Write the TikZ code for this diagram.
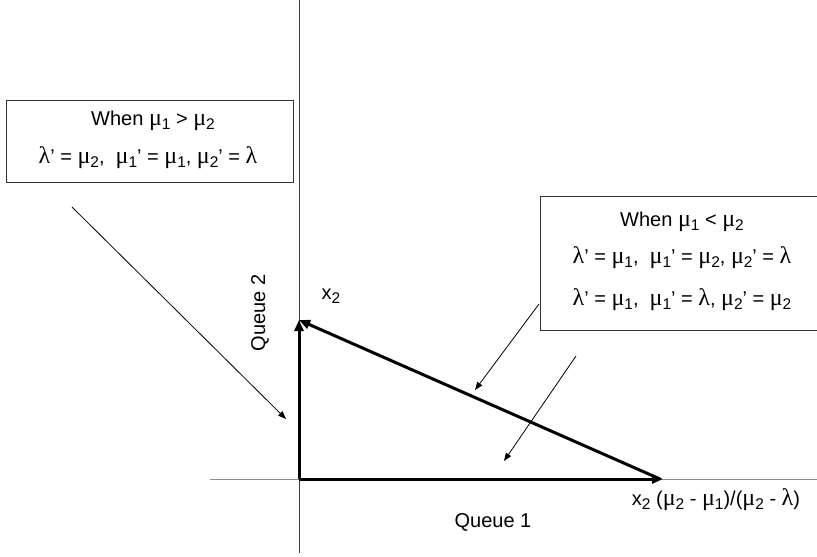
\documentclass[tikz,border=0pt]{standalone}
\usepackage{fontspec}
\setmainfont{Liberation Sans}
\newfontfamily\grk{Liberation Serif}
\usetikzlibrary{arrows.meta}
\newcommand{\gm}{{\grk\fontsize{24}{24}\selectfont μ}}
\newcommand{\gl}{{\grk\fontsize{24}{24}\selectfont λ}}
\newcommand{\sbs}[1]{\raisebox{-0.38ex}{\fontsize{15.5}{16}\selectfont #1}}
\tikzset{
  txt/.style={inner sep=0pt, font=\fontsize{20}{22}\selectfont},
  box/.style={draw=black!80, line width=0.9pt, inner sep=0pt},
  heavyarrow/.style={line width=3pt, -{Triangle[length=11pt,width=9pt]}},
  thinarrow/.style={line width=0.8pt, -{Triangle[length=8pt,width=6pt]}},
  axis/.style={line width=1pt}
}
\begin{document}
\begin{tikzpicture}[x=1pt,y=-1pt]
\useasboundingbox (0,0) rectangle (817,557);
\fill[white] (0,0) rectangle (817,557);
% axes
\coordinate (vtop) at (299,0);
\coordinate (vbot) at (299,553);
\coordinate (hl) at (210,479);
\coordinate (hr) at (817,479);
\draw[axis, draw=black!75] (vtop) -- (vbot);
\draw[axis, draw=black!45] (hl) -- (hr);
% triangle
\coordinate (O) at (299,479);
\coordinate (A) at (299,320);
\coordinate (B) at (663,479);
\coordinate (B2) at (660,479);
\draw[heavyarrow] (O) -- (A);
\draw[heavyarrow] (O) -- (B);
\draw[heavyarrow] (B2) -- (A);
% left box
\node[box, minimum width=287pt, minimum height=82pt] (lbox) at (149.5,141) {};
\node[txt] (l1) at (153,121) {When \gm\sbs{1} > \gm\sbs{2}};
\node[txt] (l2) at (148,158) {\gl’ = \gm\sbs{2},\ \ \gm\sbs{1}’ = \gm\sbs{1}, \gm\sbs{2}’ = \gl};
% right box (runs past the right edge)
\node[box, minimum width=300pt, minimum height=134pt] (rbox) at (690,263) {};
\node[txt] (r1) at (682,222) {When \gm\sbs{1} < \gm\sbs{2}};
\node[txt] (r2) at (682,258) {\gl’ = \gm\sbs{1},\ \ \gm\sbs{1}’ = \gm\sbs{2}, \gm\sbs{2}’ = \gl};
\node[txt] (r3) at (682,300) {\gl’ = \gm\sbs{1},\ \ \gm\sbs{1}’ = \gl, \gm\sbs{2}’ = \gm\sbs{2}};
% thin arrows
\coordinate (p1) at (72,207);
\coordinate (q1) at (286,419);
\draw[thinarrow] (p1) -- (q1);
\coordinate (p2) at (539,304);
\coordinate (q2) at (475,390);
\draw[thinarrow] (p2) -- (q2);
\coordinate (p3) at (576,356);
\coordinate (q3) at (504,461);
\draw[thinarrow] (p3) -- (q3);
% labels
\node[txt, rotate=90] (q2lab) at (260,313) {Queue 2};
\node[txt] (x2lab) at (331,296) {x\sbs{2}};
\node[txt] (q1lab) at (493,522) {Queue 1};
\node[txt] (blab) at (716,500) {x\sbs{2} (\gm\sbs{2} - \gm\sbs{1})/(\gm\sbs{2} - \gl)};
\end{tikzpicture}
\end{document}
